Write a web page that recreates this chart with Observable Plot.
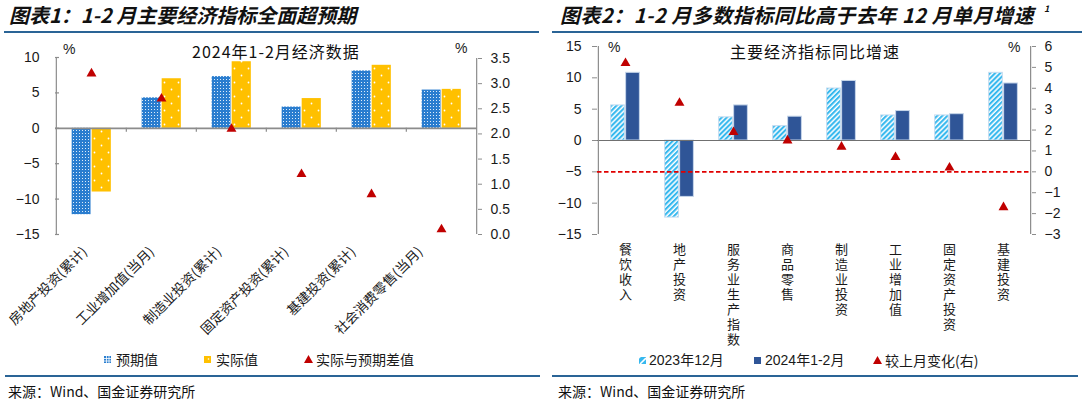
<!DOCTYPE html>
<html><head><meta charset="utf-8">
<script src="https://cdn.jsdelivr.net/npm/d3@7"></script>
<script src="https://cdn.jsdelivr.net/npm/@observablehq/plot@0.6"></script>
<style>
html,body{margin:0;padding:0;}
body{width:1086px;height:404px;background:#fff;position:relative;overflow:hidden;font-family:"Noto Sans CJK SC",sans-serif;color:#1a1a1a;}
.abs{position:absolute;white-space:nowrap;}
.title{font-size:20px;line-height:20px;font-weight:bold;font-style:italic;top:5px;color:#111;}
.rule{position:absolute;height:2px;background:#2a6496;}
.src{font-size:14px;line-height:14px;top:384px;color:#111;}
.sub{font-size:16px;line-height:16px;top:43px;letter-spacing:1px;color:#111;}
.pct{font-family:"Liberation Sans",Arial,sans-serif;font-size:14px;line-height:14px;color:#1a1a1a;}
.lg{font-size:14px;line-height:14px;color:#1a1a1a;}
.lgnum{font-family:"Liberation Sans",Arial,"Noto Sans CJK SC",sans-serif;}
.box{position:absolute;}
</style></head><body>

<div class="abs title" style="left:9px;">图表1：1-2 月主要经济指标全面超预期</div>
<div class="abs title" style="left:560px;letter-spacing:0.5px;">图表2：1-2 月多数指标同比高于去年 12 月单月增速</div>
<div class="abs" style="left:1044px;top:4px;font-size:9px;line-height:9px;font-style:italic;font-weight:bold;color:#111;">1</div>
<div class="rule" style="left:4px;width:535px;top:31px;"></div>
<div class="rule" style="left:552px;width:530px;top:31px;"></div>

<div class="box" id="c1" style="left:0px;top:30px;width:543px;height:320px;"></div>
<div class="box" id="c2" style="left:543px;top:30px;width:543px;height:320px;"></div>

<div class="abs sub" style="left:192px;">2024年1-2月经济数据</div>
<div class="abs sub" style="left:730px;">主要经济指标同比增速</div>
<div class="abs pct" style="left:63px;top:42px;">%</div>
<div class="abs pct" style="left:455px;top:41px;">%</div>
<div class="abs pct" style="left:608px;top:40px;">%</div>
<div class="abs pct" style="left:1008px;top:40px;">%</div>

<!-- legend chart 1 -->
<svg class="abs" style="left:104px;top:356px;" width="7" height="7"><rect width="7" height="7" fill="#2b7fd0"/><path d="M0 2.5H7M0 5H7M2.5 0V7M5 0V7" stroke="#fff" stroke-width="0.8"/></svg>
<div class="abs lg" style="left:116px;top:352px;">预期值</div>
<svg class="abs" style="left:204px;top:356px;" width="7" height="7"><rect width="7" height="7" fill="#ffc000"/><circle cx="4.5" cy="3" r="0.8" fill="#fff"/></svg>
<div class="abs lg" style="left:216px;top:352px;">实际值</div>
<svg class="abs" style="left:304px;top:355px;" width="9" height="8"><polygon points="4.5,0 9,8 0,8" fill="#c00000"/></svg>
<div class="abs lg" style="left:316px;top:352px;">实际与预期差值</div>

<!-- legend chart 2 -->
<svg class="abs" style="left:639px;top:357px;" width="7" height="7"><rect width="7" height="7" fill="#36b8ee"/><path d="M1 7L7 1" stroke="#fff" stroke-width="1.6"/><path d="M-1 2L2 -1" stroke="#fff" stroke-width="1.2"/></svg>
<div class="abs lg lgnum" style="left:649px;top:353px;">2023年12月</div>
<svg class="abs" style="left:754px;top:357px;" width="7" height="7"><rect width="7" height="7" fill="#2f5597"/></svg>
<div class="abs lg lgnum" style="left:765px;top:353px;">2024年1-2月</div>
<svg class="abs" style="left:873px;top:356px;" width="9" height="8"><polygon points="4.5,0 9,8 0,8" fill="#c00000"/></svg>
<div class="abs lg" style="left:885px;top:353px;">较上月变化(右)</div>

<div class="rule" style="left:5px;width:535px;top:375px;"></div>
<div class="rule" style="left:552px;width:526px;top:375px;"></div>
<div class="abs src" style="left:8px;">来源：Wind、国金证券研究所</div>
<div class="abs src" style="left:558px;">来源：Wind、国金证券研究所</div>

<script>
// ---------------- data ----------------
const cats1 = ["房地产投资(累计)", "工业增加值(当月)", "制造业投资(累计)", "固定资产投资(累计)", "基建投资(累计)", "社会消费零售(当月)"];
const expected1 = [-12.2, 4.3, 7.3, 3.0, 8.1, 5.4];
const actual1 = [-9.0, 7.0, 9.4, 4.2, 8.9, 5.5];
const diff1 = [3.2, 2.7, 2.1, 1.2, 0.8, 0.1];
const leftTicks1 = [-15, -10, -5, 0, 5, 10];
const rightTicks1 = [0, 0.5, 1, 1.5, 2, 2.5, 3, 3.5];

const cats2 = ["餐饮收入", "地产投资", "服务业生产指数", "商品零售", "制造业投资", "工业增加值", "固定资产投资", "基建投资"];
const dec2023 = [5.6, -12.3, 3.7, 2.3, 8.3, 4.0, 4.0, 10.8];
const janfeb2024 = [10.8, -9.0, 5.6, 3.8, 9.5, 4.7, 4.2, 9.1];
const change2 = [5.2, 3.3, 1.9, 1.5, 1.2, 0.7, 0.2, -1.7];
const leftTicks2 = [-15, -10, -5, 0, 5, 10, 15];
const rightTicks2 = [-3, -2, -1, 0, 1, 2, 3, 4, 5, 6];

// ---------------- helpers ----------------
const W = 543, H = 320;
const axisColor = "#8c8c8c";
const numFont = "'Liberation Sans', Arial, 'Noto Sans CJK SC', sans-serif";
const cjkFont = "'Noto Sans CJK SC', sans-serif";
function base(m) {
  return {
    width: W, height: H,
    marginTop: m.top, marginBottom: m.bottom, marginLeft: m.left, marginRight: m.right,
    style: {background: "transparent", fontFamily: numFont, fontSize: "14px", color: "#1a1a1a", overflow: "visible"}
  };
}
function place(svg, id) {
  svg.style.position = "absolute";
  svg.style.left = "0px";
  svg.style.top = "0px";
  svg.style.background = "transparent";
  document.getElementById(id).appendChild(svg);
}
function addDefs(svg, inner) {
  const d = document.createElementNS("http://www.w3.org/2000/svg", "defs");
  d.innerHTML = inner;
  svg.insertBefore(d, svg.firstChild);
}

// ---------------- chart 1 ----------------
const m1 = {top: 27, bottom: 116, left: 55, right: 66};
const pw1 = W - m1.left - m1.right;
const bw1 = pw1 / cats1.length;
const barW1 = 19.5;
const rows1 = cats1.map((c, i) => ({cat: c, exp: expected1[i], act: actual1[i], diff: diff1[i]}));

const p1 = Plot.plot({
  ...base(m1),
  x: {type: "band", domain: cats1, padding: 0, axis: null},
  y: {domain: [-15, 10], label: null},
  marks: [
    Plot.barY(rows1, {x: "cat", y: "exp", fill: "url(#c1blue)", insetLeft: bw1 / 2 - barW1, insetRight: bw1 / 2 + 0.3}),
    Plot.barY(rows1, {x: "cat", y: "act", fill: "url(#c1yellow)", insetLeft: bw1 / 2 + 0.5, insetRight: bw1 / 2 - barW1 - 0.5}),
    Plot.ruleY([0], {stroke: axisColor, strokeWidth: 1.8}),
    Plot.ruleX(cats1.slice(1), {x: d => d, y1: () => 0, y2: () => 0, insetBottom: -4, dx: -bw1 / 2, stroke: axisColor, strokeWidth: 1.2}),
    Plot.ruleX([cats1[0]], {x: d => d, dx: -bw1 / 2, stroke: axisColor, strokeWidth: 1.2}),
    Plot.ruleY(leftTicks1, {y: d => d, insetRight: pw1 - 4, stroke: axisColor, strokeWidth: 1.2}),
    Plot.axisY({anchor: "left", ticks: leftTicks1, tickSize: 0, tickPadding: 16, label: null, fill: "#1a1a1a"}),
    ...cats1.map((c, i) => Plot.text([c], {x: d => d, text: d => d, frameAnchor: "bottom", rotate: -45, textAnchor: "end", dx: -3.5 - 2.9 * i, dy: 18, fontSize: 13.5, fontFamily: cjkFont, fill: "#1a1a1a"}))
  ]
});
addDefs(p1, `
  <pattern id="c1blue" width="3" height="3" patternUnits="userSpaceOnUse">
    <rect width="3" height="3" fill="#2a7dcf"/>
    <rect x="1" y="1" width="1" height="1" fill="#ffffff" fill-opacity="0.85"/>
  </pattern>
  <pattern id="c1yellow" width="14" height="14" patternUnits="userSpaceOnUse">
    <rect width="14" height="14" fill="#ffc000"/>
    <circle cx="3.5" cy="3.5" r="0.9" fill="#ffffff"/>
    <circle cx="10.5" cy="10.5" r="0.9" fill="#ffffff"/>
  </pattern>`);
place(p1, "c1");

const p1r = Plot.plot({
  ...base({...m1, top: 28}),
  x: {type: "band", domain: cats1, padding: 0, axis: null},
  y: {domain: [0, 3.5], label: null},
  marks: [
    Plot.ruleX([cats1[cats1.length - 1]], {x: d => d, dx: bw1 / 2, stroke: axisColor, strokeWidth: 1.2}),
    Plot.axisY({anchor: "right", ticks: rightTicks1, tickFormat: d3.format(".1f"), tickSize: 4, tickPadding: 9, label: null, stroke: axisColor, fill: "#1a1a1a"}),
    Plot.dot(rows1, {x: "cat", y: "diff", symbol: "triangle", r: 3.7, fill: "#c00000", stroke: "none"})
  ]
});
place(p1r, "c1");

// ---------------- chart 2 ----------------
const m2 = {top: 16, bottom: 116, left: 54, right: 55};
const pw2 = W - m2.left - m2.right;
const bw2 = pw2 / cats2.length;
const barW2 = 14;
const rows2 = cats2.map((c, i) => ({cat: c, dec: dec2023[i], jf: janfeb2024[i], chg: change2[i]}));

const p2 = Plot.plot({
  ...base(m2),
  x: {type: "band", domain: cats2, padding: 0, axis: null},
  y: {domain: [-15, 15], label: null},
  marks: [
    Plot.barY(rows2, {x: "cat", y: "dec", fill: "url(#c2hatch)", stroke: "#c6dcf0", strokeWidth: 1, insetLeft: bw2 / 2 - barW2 - 0.5, insetRight: bw2 / 2 + 0.5}),
    Plot.barY(rows2, {x: "cat", y: "jf", fill: "#2f5597", stroke: "#c6d6ea", strokeWidth: 1, insetLeft: bw2 / 2 + 0.5, insetRight: bw2 / 2 - barW2 - 0.5}),
    Plot.ruleY([0], {stroke: "#707070", strokeWidth: 1}),
    Plot.ruleX([cats2[0]], {x: d => d, dx: -bw2 / 2, stroke: axisColor, strokeWidth: 1.2}),
    Plot.axisY({anchor: "left", ticks: leftTicks2, tickSize: 5, tickPadding: 11, label: null, stroke: axisColor, fill: "#1a1a1a"}),
    Plot.text(cats2, {x: d => d, text: d => Array.from(d).join("\n"), frameAnchor: "bottom", lineAnchor: "top", lineHeight: 1.154, dy: 9, fontSize: 13, fontFamily: cjkFont, fill: "#1a1a1a"})
  ]
});
addDefs(p2, `
  <pattern id="c2hatch" width="3.6" height="3.6" patternUnits="userSpaceOnUse" patternTransform="rotate(45)">
    <rect width="3.6" height="3.6" fill="#ffffff"/>
    <rect width="2.1" height="3.6" fill="#36b8ee"/>
  </pattern>`);
place(p2, "c2");

const p2r = Plot.plot({
  ...base(m2),
  x: {type: "band", domain: cats2, padding: 0, axis: null},
  y: {domain: [-3, 6], label: null},
  marks: [
    Plot.ruleX([cats2[cats2.length - 1]], {x: d => d, dx: bw2 / 2, stroke: axisColor, strokeWidth: 1.2}),
    Plot.axisY({anchor: "right", ticks: rightTicks2, tickSize: 4, tickPadding: 9, label: null, stroke: axisColor, fill: "#1a1a1a"}),
    Plot.ruleY([0], {stroke: "#e00000", strokeWidth: 1.6, strokeDasharray: "4.5,2.5"}),
    Plot.dot(rows2, {x: "cat", y: "chg", symbol: "triangle", r: 3.7, fill: "#c00000", stroke: "none"})
  ]
});
place(p2r, "c2");
</script>
</body></html>
